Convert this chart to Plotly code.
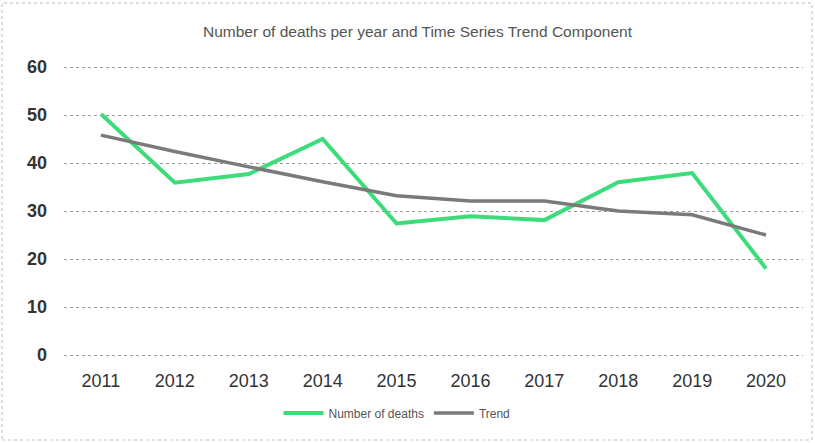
import plotly.graph_objects as go

years = ["2011", "2012", "2013", "2014", "2015", "2016", "2017", "2018", "2019", "2020"]
deaths = [50.2, 35.9, 37.7, 45.0, 27.4, 28.9, 28.1, 36.0, 37.9, 18.0]
trend = [45.8, 42.4, 39.2, 36.1, 33.2, 32.1, 32.1, 30.0, 29.2, 25.0]
y_ticks = [0, 10, 20, 30, 40, 50, 60]

L, R, T, B = 64, 12, 64, 85
W, H = 815, 443
pw = W - L - R
ph = H - T - B
ypx = 4.8  # pixels per unit
pad = (ph / ypx - 60) / 2

fig = go.Figure()
fig.add_trace(go.Scatter(x=years, y=deaths, mode="lines", name="Number of deaths",
                         line=dict(color="#3ddc7a", width=4), cliponaxis=False))
fig.add_trace(go.Scatter(x=years, y=trend, mode="lines", name="Trend",
                         line=dict(color="#7a7a7a", width=3.5), cliponaxis=False))

fig.update_layout(
    width=W, height=H,
    margin=dict(l=L, r=R, t=T, b=B),
    paper_bgcolor="white", plot_bgcolor="white",
    font=dict(family="Liberation Sans, Arial, sans-serif", color="#333"),
    title=dict(text="Number of deaths per year and Time Series Trend Component",
               x=(417.5 - L) / pw, xref="paper", xanchor="center",
               y=1 - 32 / H, yref="container", yanchor="middle",
               font=dict(size=15.5, color="#555")),
    xaxis=dict(type="category", range=[-0.5, 9.5], showgrid=False, showline=False,
               zeroline=False, ticks="", tickfont=dict(size=18, color="#333"),
               ticklabelstandoff=10),
    yaxis=dict(range=[-pad, 60 + pad], tickvals=y_ticks, showgrid=True, gridcolor="#9a9a9a",
               griddash="dot", gridwidth=1, zeroline=False, showline=False, ticks="",
               tickfont=dict(size=18, color="#333", weight="bold"),
               ticklabelstandoff=16),
    legend=dict(orientation="h", x=(397 - L) / pw, xanchor="center",
                y=(H - B - 413) / ph, yanchor="middle",
                font=dict(size=12, color="#555"), itemwidth=40),
    showlegend=True,
)

fig.add_shape(type="rect", xref="paper", yref="paper",
              x0=(2 - L) / pw, x1=(812 - L) / pw,
              y0=((H - B) - 440) / ph, y1=((H - B) - 3) / ph,
              line=dict(color="#bbbbbb", width=1, dash="dot"), layer="below")

fig.write_html("out.html")
